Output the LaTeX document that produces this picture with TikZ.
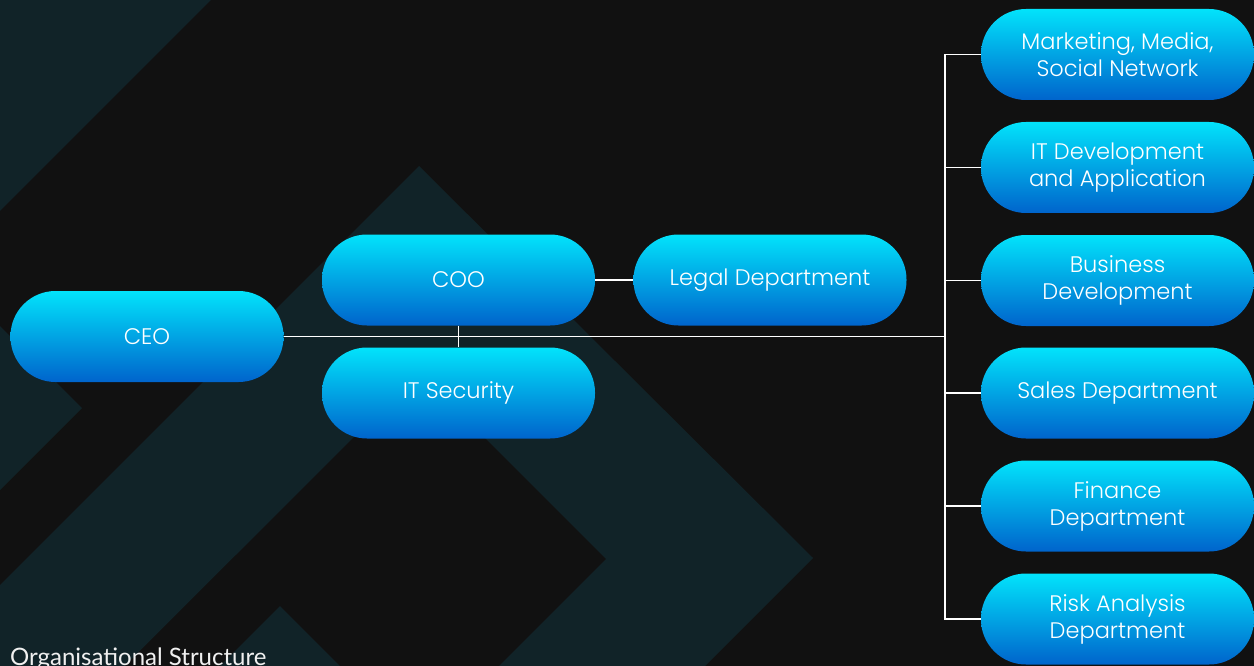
\documentclass[tikz,border=0pt]{standalone}
\usepackage{fontspec}
\IfFontExistsTF{Poppins Light}{\setmainfont{Poppins Light}}{\setmainfont{Poppins}}
\newfontfamily\latofont{Lato}

\definecolor{bgdark}{HTML}{111111}
\definecolor{bgteal}{HTML}{112328}
\definecolor{pilltop}{HTML}{02E3FB}
\definecolor{pillmid}{HTML}{00B8EE}
\definecolor{pillbot}{HTML}{0064CC}

\tikzset{
  pill/.style={
    rounded corners=45pt, minimum width=273pt, minimum height=91pt,
    inner sep=0pt, align=center, text=white,
    font=\fontsize{22.5}{27}\selectfont,
    top color=pilltop, middle color=pillmid, bottom color=pillbot,
    draw=none},
  wire/.style={draw=white, line width=1.6pt},
}

\begin{document}
\begin{tikzpicture}[x=1pt,y=-1pt]
  % canvas
  \fill[bgdark] (0,0) rectangle (1254,666);
  \useasboundingbox (0,0) rectangle (1254,666);

  % diagonal background ornaments
  \begin{scope}
    \clip (0,0) rectangle (1254,666);
    % large angled band: rising arm, peak, right arm and returning arm
    \fill[bgteal] (-300,885) -- (419,166) -- (813,558) -- (571,800)
                  -- (365,800) -- (606,559) -- (419,372) -- (-300,1090) -- cycle;
    % point entering from the left edge
    \fill[bgteal] (-300,26) -- (82,408) -- (-300,790) -- cycle;
    % peak rising from the bottom edge
    \fill[bgteal] (280,606) -- (600,926) -- (-100,986) -- cycle;
    % corner wedge
    \fill[bgteal] (0,0) -- (211,0) -- (0,211) -- cycle;
  \end{scope}

  % boxes
  \node[pill] (ceo)   at (147,336.5) {CEO};
  \node[pill] (coo)   at (458.5,280) {COO};
  \node[pill] (itsec) at (458.5,393) {IT Security};
  \node[pill] (legal) at (770,280)   {Legal Department};

  \node[pill] (mkt)   at (1117.5,54.5)  {Marketing, Media,\\Social Network};
  \node[pill] (itdev) at (1117.5,167.5) {IT Development\\and Application};
  \node[pill] (bus)   at (1117.5,280.5) {Business\\Development};
  \node[pill] (sales) at (1117.5,393)   {Sales Department};
  \node[pill] (fin)   at (1117.5,506)   {Finance\\Department};
  \node[pill] (risk)  at (1117.5,619)   {Risk Analysis\\Department};

  % trunk position
  \coordinate (trunk) at (945,336.5);

  % connectors
  \draw[wire] (ceo.east) -- (trunk);
  \draw[wire] (coo.south) -- (itsec.north);
  \draw[wire] (coo.east) -- (legal.west);
  \draw[wire] (mkt.west) -- (mkt.west -| trunk) -- (risk.west -| trunk) -- (risk.west);
  \foreach \b in {itdev,bus,sales,fin}
    \draw[wire] (\b.west -| trunk) -- (\b.west);

  % caption
  \node[anchor=base west, inner sep=0pt, text=white!94!black,
        font=\latofont\fontsize{24}{28}\selectfont] (caption) at (10,665)
        {Organisational Structure};
\end{tikzpicture}
\end{document}
